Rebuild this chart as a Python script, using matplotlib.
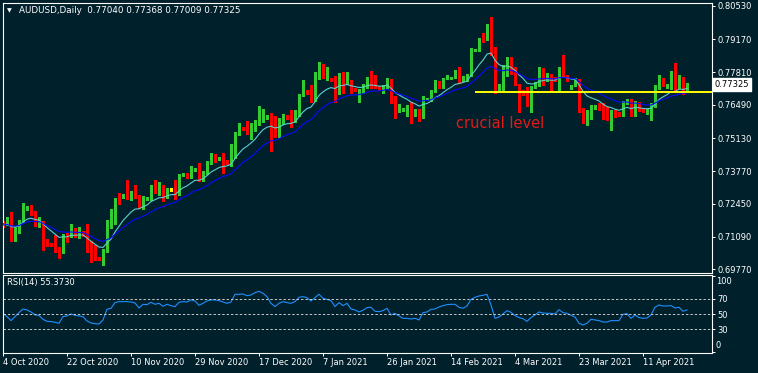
import numpy as np
import pandas as pd
import matplotlib
matplotlib.use("Agg")
import matplotlib.pyplot as plt
import matplotlib.transforms as mtransforms

# AUDUSD daily candles, 4 Oct 2020 .. 23 Apr 2021
opens = [
    0.71654, 0.71613, 0.71818, 0.70959, 0.71368, 0.71707, 0.72215, 0.72296, 0.72092, 0.71585,
    0.71667, 0.70971, 0.70796, 0.70796, 0.70644, 0.70468, 0.71164, 0.71164, 0.71409, 0.71135,
    0.71233, 0.71205, 0.70550, 0.70305, 0.70235, 0.70170, 0.70521, 0.71642, 0.71667, 0.72636,
    0.72730, 0.72799, 0.72689, 0.72840, 0.72799, 0.72296, 0.72648, 0.72648, 0.73168, 0.72976,
    0.73004, 0.72730, 0.73033, 0.73033, 0.72840, 0.73618, 0.73687, 0.73523, 0.73822, 0.73891,
    0.73413, 0.73687, 0.74096, 0.74395, 0.74272, 0.74301, 0.74202, 0.74027, 0.74342, 0.75389,
    0.75528, 0.75499, 0.75254, 0.75458, 0.75703, 0.76206, 0.75961, 0.76030, 0.75798, 0.75213,
    0.75732, 0.76030, 0.76002, 0.75798, 0.76071, 0.76889, 0.77053, 0.77025, 0.76685, 0.77573,
    0.78088, 0.77573, 0.77544, 0.77597, 0.76984, 0.77748, 0.77368, 0.77393, 0.77123, 0.76808,
    0.77053, 0.77258, 0.77666, 0.77433, 0.77204, 0.77025, 0.77229, 0.77503, 0.76754, 0.76276,
    0.76276, 0.76153, 0.76276, 0.76071, 0.76235, 0.76002, 0.76714, 0.76685, 0.77025, 0.77393,
    0.77229, 0.77573, 0.77605, 0.77638, 0.77843, 0.77503, 0.77503, 0.77708, 0.78701, 0.78730,
    0.79344, 0.79168, 0.79683, 0.78799, 0.77094, 0.77299, 0.77708, 0.78211, 0.77777, 0.77204,
    0.77025, 0.77163, 0.76411, 0.77204, 0.77299, 0.77912, 0.77503, 0.77613, 0.77573, 0.77503,
    0.78076, 0.77638, 0.77163, 0.77299, 0.77503, 0.76276, 0.75867, 0.75937, 0.76345, 0.76411,
    0.76411, 0.76030, 0.75937, 0.76206, 0.76141, 0.76071, 0.76550, 0.76615, 0.76071, 0.76562,
    0.76276, 0.76141, 0.76206, 0.76411, 0.77163, 0.77503, 0.77229, 0.77163, 0.77613, 0.77204,
    0.77544, 0.77040,
]
highs = [
    0.71736, 0.71912, 0.72116, 0.71491, 0.71777, 0.72460, 0.72370, 0.72378, 0.72125, 0.71912,
    0.71736, 0.71000, 0.70837, 0.71164, 0.70673, 0.71192, 0.71258, 0.71601, 0.71438, 0.71479,
    0.71327, 0.71614, 0.70930, 0.70755, 0.70264, 0.70611, 0.71777, 0.72215, 0.72677, 0.72894,
    0.72840, 0.73413, 0.72976, 0.73209, 0.72820, 0.72759, 0.72718, 0.73209, 0.73413, 0.73332,
    0.73209, 0.73106, 0.73074, 0.73413, 0.73659, 0.73720, 0.73720, 0.73986, 0.73924, 0.74096,
    0.73781, 0.74190, 0.74505, 0.74464, 0.74374, 0.74530, 0.74231, 0.74886, 0.75376, 0.75732,
    0.75593, 0.75826, 0.75732, 0.75867, 0.76439, 0.76317, 0.76071, 0.76153, 0.76030, 0.75961,
    0.76112, 0.76071, 0.76276, 0.76276, 0.76930, 0.77503, 0.77094, 0.77299, 0.77843, 0.78227,
    0.78157, 0.78047, 0.77585, 0.77666, 0.77789, 0.77843, 0.77843, 0.77503, 0.77176, 0.77135,
    0.77339, 0.77638, 0.77883, 0.77708, 0.77258, 0.77299, 0.77585, 0.77544, 0.76849, 0.76521,
    0.76358, 0.76480, 0.76615, 0.76317, 0.76317, 0.76849, 0.76767, 0.77094, 0.77503, 0.77462,
    0.77585, 0.77708, 0.77646, 0.77912, 0.78047, 0.77666, 0.77748, 0.78812, 0.78791, 0.79221,
    0.79413, 0.79793, 0.80092, 0.78853, 0.77339, 0.78117, 0.78456, 0.78431, 0.78047, 0.77339,
    0.77094, 0.77217, 0.77258, 0.77421, 0.78047, 0.77994, 0.77802, 0.77748, 0.77626, 0.78047,
    0.78526, 0.77708, 0.77299, 0.77573, 0.77544, 0.76358, 0.76276, 0.76480, 0.76480, 0.76550,
    0.76575, 0.76399, 0.76276, 0.76276, 0.76194, 0.76644, 0.76726, 0.76714, 0.76644, 0.76603,
    0.76358, 0.76317, 0.76562, 0.77299, 0.77708, 0.77585, 0.77339, 0.77871, 0.78186, 0.77708,
    0.77626, 0.77368,
]
lows = [
    0.71491, 0.71573, 0.70930, 0.70918, 0.71245, 0.71695, 0.72166, 0.71998, 0.71532, 0.71503,
    0.70550, 0.70714, 0.70734, 0.70480, 0.70210, 0.70439, 0.70865, 0.71094, 0.71070, 0.71029,
    0.71143, 0.70480, 0.70047, 0.70141, 0.70141, 0.69936, 0.70480, 0.71438, 0.71634, 0.72431,
    0.72677, 0.72624, 0.72595, 0.72665, 0.72255, 0.72215, 0.72615, 0.72615, 0.72869, 0.72799,
    0.72554, 0.72697, 0.72963, 0.72636, 0.72799, 0.73577, 0.73495, 0.73495, 0.73781, 0.73372,
    0.73372, 0.73659, 0.74067, 0.74162, 0.74231, 0.73711, 0.74067, 0.73986, 0.74313, 0.75254,
    0.75458, 0.75294, 0.75078, 0.75417, 0.75662, 0.75798, 0.75928, 0.74611, 0.75172, 0.75172,
    0.75703, 0.75908, 0.75593, 0.75765, 0.76030, 0.76848, 0.76930, 0.76603, 0.76644, 0.77544,
    0.77605, 0.77503, 0.77442, 0.76615, 0.76951, 0.76971, 0.77340, 0.76959, 0.77033, 0.76615,
    0.76971, 0.77176, 0.77163, 0.77163, 0.77094, 0.76971, 0.77176, 0.76562, 0.75936, 0.76194,
    0.76235, 0.76030, 0.75732, 0.76030, 0.75826, 0.75969, 0.76665, 0.76644, 0.76992, 0.77176,
    0.77196, 0.77524, 0.77564, 0.77605, 0.77368, 0.77462, 0.77462, 0.77666, 0.78669, 0.78689,
    0.79070, 0.79139, 0.78526, 0.76984, 0.77053, 0.77053, 0.77666, 0.77748, 0.77299, 0.76206,
    0.76889, 0.76439, 0.76206, 0.77176, 0.77258, 0.77299, 0.77462, 0.77094, 0.77482, 0.77025,
    0.77687, 0.77462, 0.77135, 0.77258, 0.76206, 0.75757, 0.75662, 0.75908, 0.76317, 0.76276,
    0.75908, 0.75867, 0.75458, 0.75990, 0.76030, 0.76030, 0.76521, 0.76030, 0.76030, 0.76235,
    0.76194, 0.76112, 0.75867, 0.76386, 0.77135, 0.77258, 0.77196, 0.77135, 0.77065, 0.77176,
    0.76930, 0.77009,
]
closes = [
    0.71573, 0.71818, 0.70959, 0.71478, 0.71707, 0.72431, 0.72321, 0.72035, 0.71573, 0.71667,
    0.70930, 0.70755, 0.70755, 0.70603, 0.70468, 0.71164, 0.71110, 0.71422, 0.71164, 0.71205,
    0.71164, 0.70521, 0.70276, 0.70235, 0.70170, 0.70579, 0.71642, 0.71707, 0.72595, 0.72595,
    0.72799, 0.72689, 0.72894, 0.72771, 0.72296, 0.72706, 0.72689, 0.73168, 0.72963, 0.73033,
    0.72730, 0.73074, 0.73033, 0.72840, 0.73618, 0.73687, 0.73523, 0.73822, 0.73891, 0.73413,
    0.73753, 0.74162, 0.74395, 0.74231, 0.74342, 0.74162, 0.74096, 0.74366, 0.75348, 0.75458,
    0.75487, 0.75294, 0.75528, 0.75756, 0.76247, 0.76276, 0.76030, 0.75798, 0.75213, 0.75732,
    0.76071, 0.75937, 0.75798, 0.76071, 0.76889, 0.77123, 0.76959, 0.76656, 0.77573, 0.78088,
    0.77638, 0.77638, 0.77474, 0.76984, 0.77748, 0.77368, 0.77503, 0.77025, 0.77066, 0.77053,
    0.77258, 0.77544, 0.77433, 0.77204, 0.77123, 0.77229, 0.77503, 0.76615, 0.76206, 0.76439,
    0.76345, 0.76358, 0.76071, 0.76235, 0.76002, 0.76795, 0.76734, 0.77025, 0.77433, 0.77229,
    0.77544, 0.77666, 0.77626, 0.77871, 0.77503, 0.77613, 0.77708, 0.78759, 0.78759, 0.79180,
    0.79168, 0.79683, 0.78799, 0.77025, 0.77299, 0.77708, 0.78186, 0.77777, 0.77299, 0.76918,
    0.76930, 0.76480, 0.77204, 0.77368, 0.77883, 0.77613, 0.77666, 0.77433, 0.77503, 0.78047,
    0.77708, 0.77503, 0.77299, 0.77503, 0.76276, 0.75838, 0.76002, 0.76439, 0.76439, 0.76345,
    0.75937, 0.75949, 0.76206, 0.76002, 0.76071, 0.76575, 0.76685, 0.76071, 0.76615, 0.76305,
    0.76206, 0.76276, 0.76439, 0.77258, 0.77573, 0.77299, 0.77299, 0.77573, 0.77094, 0.77544,
    0.77066, 0.77325,
]
rsi = [
    50.9, 46.6, 41.4, 46.6, 51.8, 56.6, 55.3, 52.7, 48.8, 48.3,
    43.1, 40.5, 40.1, 39.2, 37.9, 46.6, 47.5, 50.1, 48.3, 47.5,
    46.6, 40.9, 38.3, 37.4, 37.0, 42.2, 56.2, 57.5, 64.9, 66.2,
    66.2, 66.2, 65.7, 64.4, 57.9, 62.7, 62.3, 65.3, 62.7, 64.0,
    60.1, 62.7, 61.0, 59.7, 65.3, 66.2, 65.7, 68.4, 67.1, 61.4,
    64.0, 67.1, 68.4, 68.4, 67.5, 65.7, 64.0, 65.7, 75.8, 75.8,
    76.2, 74.0, 74.9, 77.9, 79.7, 77.1, 72.7, 64.0, 59.7, 64.0,
    66.2, 64.9, 64.0, 66.2, 71.9, 72.7, 71.4, 67.1, 71.4, 75.8,
    70.5, 69.2, 67.5, 59.7, 64.9, 61.0, 64.0, 56.6, 55.3, 52.7,
    54.9, 58.4, 58.8, 53.6, 53.1, 54.4, 57.5, 48.8, 50.9, 47.5,
    44.4, 44.4, 43.5, 44.4, 42.2, 51.8, 52.7, 56.2, 56.6, 59.2,
    61.0, 62.3, 62.7, 62.7, 58.8, 57.5, 60.5, 69.2, 71.9, 73.6,
    74.5, 75.8, 61.8, 44.4, 46.1, 50.1, 54.4, 52.2, 47.9, 45.3,
    44.0, 40.5, 45.3, 48.8, 52.7, 51.4, 50.9, 50.9, 50.1, 55.7,
    51.8, 50.9, 48.3, 46.1, 37.9, 35.7, 37.9, 43.1, 42.2, 41.4,
    39.6, 39.6, 41.4, 41.4, 41.4, 49.6, 50.5, 44.4, 48.8, 45.3,
    44.4, 44.8, 48.8, 58.8, 61.8, 60.5, 60.5, 61.0, 57.9, 58.8,
    53.6, 55.4,
]

date_pos = [0, 16, 32, 48, 64, 80, 96, 112, 128, 144, 160]
date_labels = ["4 Oct 2020", "22 Oct 2020", "10 Nov 2020", "29 Nov 2020", "17 Dec 2020",
               "7 Jan 2021", "26 Jan 2021", "14 Feb 2021", "4 Mar 2021", "23 Mar 2021",
               "11 Apr 2021"]
price_ticks = [0.80530, 0.79170, 0.77810, 0.76490, 0.75130, 0.73770, 0.72450, 0.71090, 0.69770]
rsi_levels = [30, 50, 70]
level_price = 0.7700
level_from = 118
last_price = 0.77325
rsi_last = 55.3730

BG = '#00202b'
GREEN = '#32cd32'
RED = '#ff0000'
W, H = 758, 373

plt.rcParams['font.family'] = ['DejaVu Sans']


def box(left, top, right, bottom):
    return [left / W, 1 - bottom / H, (right - left) / W, (bottom - top) / H]


o = np.array(opens)
h = np.array(highs)
l = np.array(lows)
c = np.array(closes)
x = np.arange(len(c))
ma_fast = pd.Series(c).ewm(span=10, adjust=False).mean()
ma_slow = pd.Series(c).ewm(span=20, adjust=False).mean()

fig = plt.figure(figsize=(W / 100, H / 100), dpi=100, facecolor=BG)
ax = fig.add_axes(box(2.5, 2.5, 712, 272.5), facecolor=BG)
ax_rsi = fig.add_axes(box(2.5, 275, 712, 352.5), facecolor=BG)

# candles, drawn crisp like the terminal does
cols = np.where(c > o, GREEN, np.where(c < o, RED, '#ffff00'))
ax.vlines(x, l, h, colors=cols, lw=0.75, zorder=2, antialiased=False)
ax.bar(x, np.maximum(np.abs(c - o), 0.0004), bottom=np.minimum(o, c), width=0.5,
       color=cols, linewidth=0, zorder=3, antialiased=False)
ax.plot(x, ma_fast, color='#5ed0d0', lw=0.8, zorder=4)
ax.plot(x, ma_slow, color='#0a0aff', lw=0.8, zorder=4)
ax.hlines(level_price, level_from, 177.25, color='#ffff00', lw=1.4, zorder=5)
ax.text(113.25, 0.75744, 'crucial level', color='#e01b1b', fontsize=10.5,
        ha='left', va='center', zorder=6)

ax.set_xlim(-0.125, 177.25)
ax.set_ylim(0.69630, 0.80673)
ax.set_xticks([])
ax.yaxis.tick_right()
ax.set_yticks(price_ticks)
ax.set_yticklabels(['%.5f' % p for p in price_ticks])
ax.tick_params(axis='y', colors='white', labelcolor='white', labelsize=6,
               length=2.2, width=0.72, pad=1.5)
for s in ax.spines.values():
    s.set_color('white')
    s.set_linewidth(0.8)

tr = mtransforms.blended_transform_factory(ax.transAxes, ax.transData)
ax.text(1.0 + 2.5 / 709.5, last_price, '%.5f' % last_price, transform=tr,
        fontsize=6, color='black', ha='left', va='center',
        bbox=dict(boxstyle='square,pad=0.2', fc='white', ec='white'), clip_on=False)

fig.text(9.5 / W, 1 - 10.5 / H, '\u25bc', color='white', fontsize=4.5, ha='center', va='center')
fig.text(19 / W, 1 - 10.5 / H, 'AUDUSD,Daily  0.77040 0.77368 0.77009 0.77325',
         color='white', fontsize=6.3, ha='left', va='center')

# RSI panel
ax_rsi.plot(x, rsi, color='#1e90ff', lw=0.8)
for lv in rsi_levels:
    ax_rsi.axhline(lv, color='#c8c8c8', lw=0.7, dashes=(2.5, 2.0))
ax_rsi.set_xlim(-0.125, 177.25)
ax_rsi.set_ylim(-0.26, 101.0)
ax_rsi.yaxis.tick_right()
ax_rsi.set_yticks([0, 30, 50, 70, 100])
ax_rsi.set_yticklabels(['', '30', '50', '70', ''])
ax_rsi.tick_params(axis='y', colors='white', labelcolor='white', labelsize=6,
                   length=2.2, width=0.72, pad=1.5)
tr2 = mtransforms.blended_transform_factory(ax_rsi.transAxes, ax_rsi.transData)
ax_rsi.text(1.0 + 4 / 709.5, 91.9, '100', transform=tr2, color='white', fontsize=6,
            ha='left', va='center')
ax_rsi.text(1.0 + 4 / 709.5, 9.5, '0', transform=tr2, color='white', fontsize=6,
            ha='left', va='center')
ax_rsi.text(4.5 / 709.5, 0.897, 'RSI(14) %.4f' % rsi_last, transform=ax_rsi.transAxes,
            color='white', fontsize=6, ha='left', va='center')

ax_rsi.set_xticks(date_pos)
ax_rsi.set_xticklabels(date_labels)
for lab in ax_rsi.get_xticklabels():
    lab.set_ha('left')
ax_rsi.tick_params(axis='x', colors='white', labelcolor='white', labelsize=6,
                   length=2.5, width=0.72, pad=1.5)
for s in ax_rsi.spines.values():
    s.set_color('white')
    s.set_linewidth(0.8)

fig.savefig('out.png', dpi=100, facecolor=BG)
